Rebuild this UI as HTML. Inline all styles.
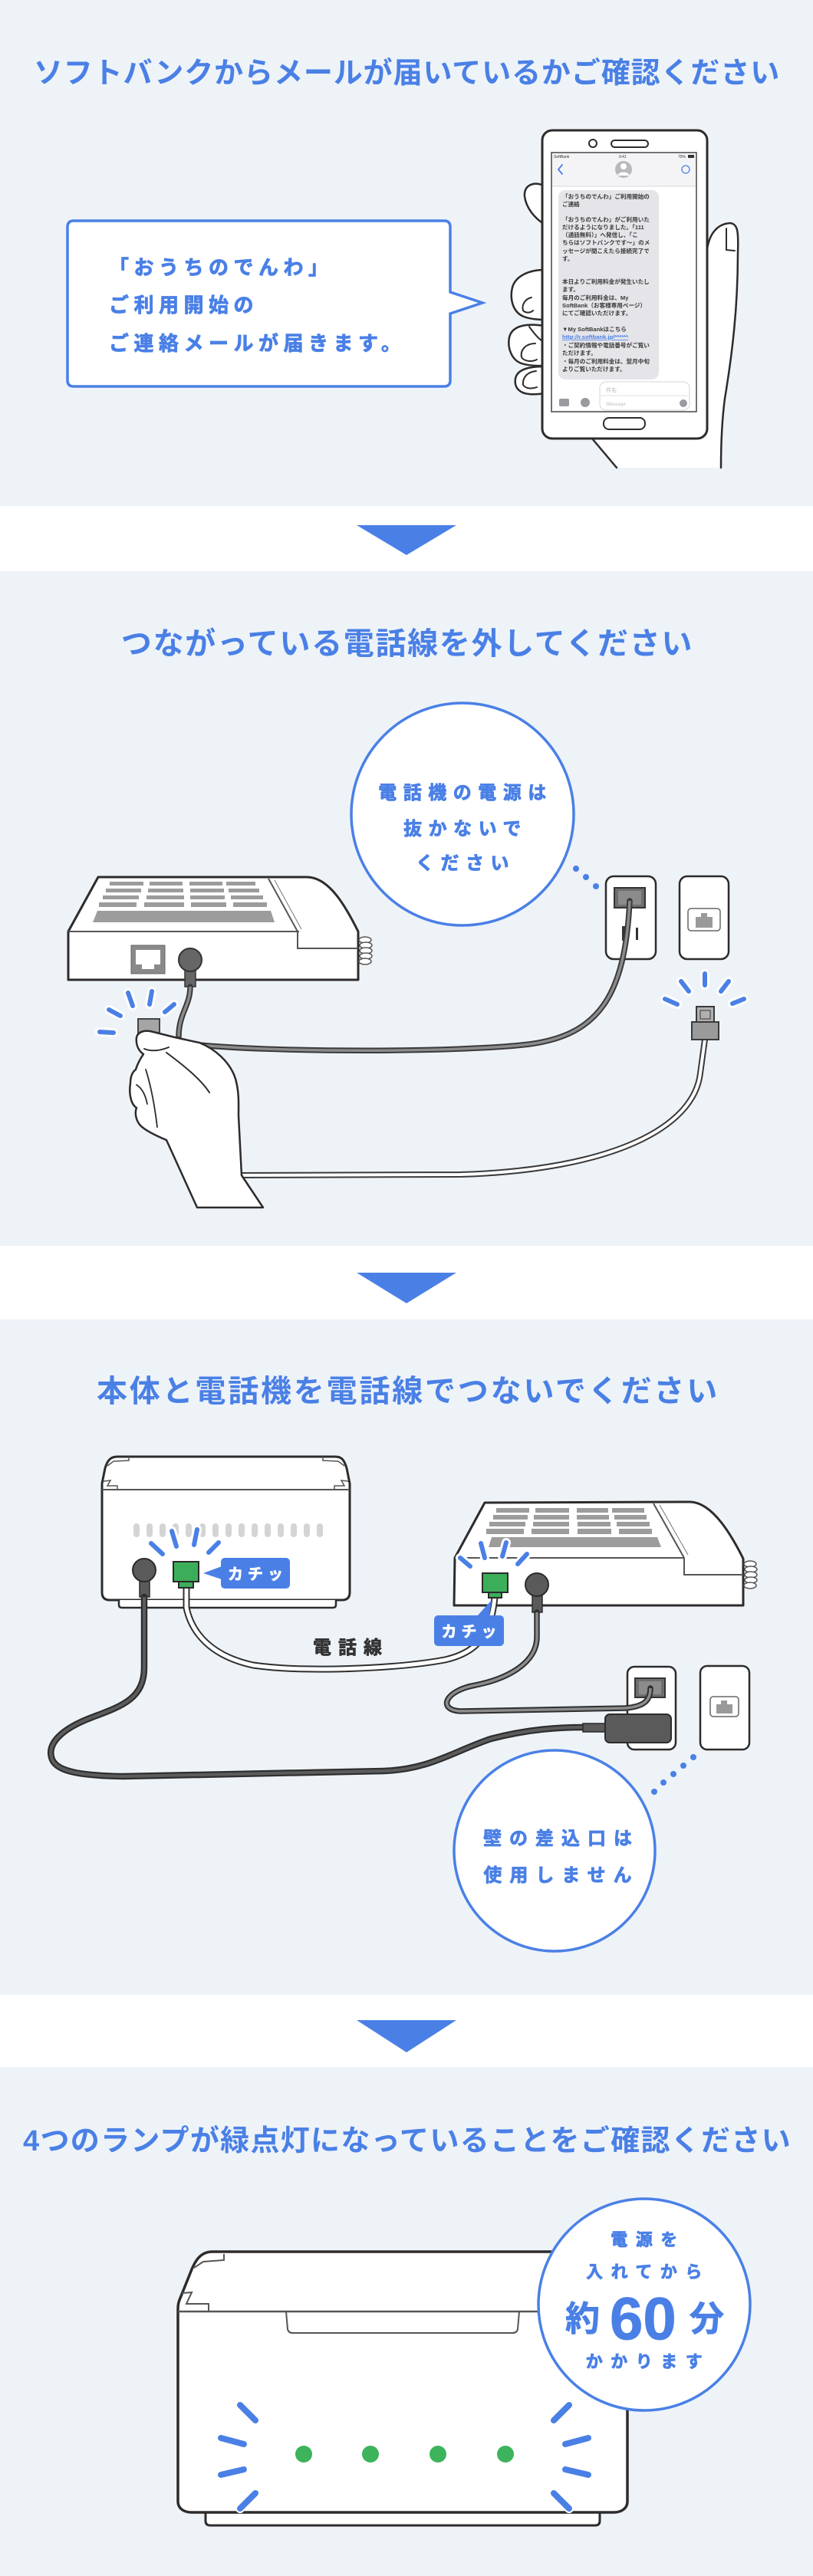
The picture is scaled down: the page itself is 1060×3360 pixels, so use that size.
<!DOCTYPE html>
<html><head><meta charset="utf-8">
<style>
html,body{margin:0;padding:0;background:#fff;}
svg{display:block;}
text{font-family:"Liberation Sans","Noto Sans CJK JP",sans-serif;font-weight:700;}
.t{fill:#4a80e6;}
.b{stroke:#4a80e6;stroke-width:0.8px;stroke-linejoin:round;}
.w{stroke:#fff;stroke-width:0.7px;stroke-linejoin:round;}
.k{stroke:#333;stroke-width:0.7px;stroke-linejoin:round;}
.ln{fill:none;stroke:#2e2b2b;stroke-linecap:round;stroke-linejoin:round;}
.dash{stroke:#4a80e6;stroke-width:6;stroke-linecap:round;fill:none;}
.halo{stroke:#fff;stroke-width:12;stroke-linecap:round;fill:none;}
.small{font-family:"Liberation Sans","Noto Sans CJK JP",sans-serif;font-weight:400;}
</style></head><body>
<svg width="1060" height="3360" viewBox="0 0 1060 3360" xmlns="http://www.w3.org/2000/svg">
<rect x="0" y="0" width="1060" height="3360" fill="#fff"/>
<rect x="0" y="0" width="1060" height="660" fill="#eef3f8"/>
<rect x="0" y="745" width="1060" height="880" fill="#eef3f8"/>
<rect x="0" y="1721" width="1060" height="881" fill="#eef3f8"/>
<rect x="0" y="2696" width="1060" height="664" fill="#eef3f8"/>

<!-- arrows -->
<polygon points="465,685 595,685 530,724" fill="#4a80e6"/>
<polygon points="465,1660 595,1660 530,1700" fill="#4a80e6"/>
<polygon points="465,2635 595,2635 530,2677" fill="#4a80e6"/>

<!-- titles -->
<text x="530.5" y="108" font-size="38" text-anchor="middle" class="t" style="letter-spacing:0.9px">ソフトバンクからメールが届いているかご確認ください</text>
<text x="531" y="853" font-size="40" text-anchor="middle" class="t" style="letter-spacing:1.7px">つながっている電話線を外してください</text>
<text x="532" y="1828" font-size="40" text-anchor="middle" class="t" style="letter-spacing:2.8px">本体と電話機を電話線でつないでください</text>
<text x="531" y="2805" font-size="38" text-anchor="middle" class="t" style="letter-spacing:1.3px">4つのランプが緑点灯になっていることをご確認ください</text>

<!-- ===== SECTION 1 ===== -->
<path d="M96,288 H579 Q587,288 587,296 V381 L629,395 L587,409 V496 Q587,504 579,504 H96 Q88,504 88,496 V296 Q88,288 96,288 Z" fill="#fff" stroke="#4a80e6" stroke-width="3.5" stroke-linejoin="miter"/>
<text x="142" y="358" font-size="26" class="t b" style="letter-spacing:6.5px">「おうちのでんわ」</text>
<text x="142" y="407" font-size="26" class="t b" style="letter-spacing:6.5px">ご利用開始の</text>
<text x="142" y="457" font-size="26" class="t b" style="letter-spacing:6.5px">ご連絡メールが届きます。</text>

<!-- hand behind phone -->
<path d="M922,330 C925,305 935,292 952,291 C962,292 963,302 962,330 C962,400 955,460 945,520 C941,550 940,580 940,610 L804,610 L772,572 L922,572 Z" fill="#fff"/>
<path class="ln" stroke-width="2.5" d="M922,325 C925,305 935,292 952,291 C962,292 963,302 962,330 C962,400 955,460 945,520 C941,550 940,580 940,610"/>
<path class="ln" stroke-width="2" d="M947,298 L947,326 L958,327"/>
<path class="ln" stroke-width="2.5" d="M772,572 L804,610"/>
<path d="M709,242 C695,236 683,242 684,256 C686,272 698,285 709,292 Z" fill="#fff" stroke="#2e2b2b" stroke-width="2.5" stroke-linejoin="round"/>
<path d="M709,352 C690,352 672,360 668,375 C664,392 670,408 683,413 C693,417 709,417 709,417 Z" fill="#fff" stroke="#2e2b2b" stroke-width="2.5" stroke-linejoin="round"/>
<path class="ln" stroke-width="2" d="M693,388 C684,390 680,398 682,405 C686,409 692,408 695,405"/>
<path d="M709,425 C690,422 668,423 664,440 C661,455 668,470 680,474 C692,478 709,477 709,477 Z" fill="#fff" stroke="#2e2b2b" stroke-width="2.5" stroke-linejoin="round"/>
<path class="ln" stroke-width="2" d="M698,448 C686,448 678,456 680,466 C684,472 694,472 700,469"/>
<path d="M709,478 C690,478 674,482 672,494 C670,506 678,513 690,514 C700,515 709,513 709,513 Z" fill="#fff" stroke="#2e2b2b" stroke-width="2.5" stroke-linejoin="round"/>
<path class="ln" stroke-width="2" d="M699,484 C688,485 681,492 682,502 C686,508 695,507 700,505"/>
<path class="ln" stroke-width="2" d="M690,426 C697,436 703,443 709,446"/>

<!-- phone -->
<rect x="707" y="170" width="215" height="402" rx="13" fill="#fff" stroke="#2e2b2b" stroke-width="3"/>
<circle cx="773" cy="187" r="5" fill="#fff" stroke="#2e2b2b" stroke-width="2"/>
<rect x="797" y="183" width="48" height="9" rx="4.5" fill="#fff" stroke="#2e2b2b" stroke-width="2"/>
<rect x="787" y="545" width="54" height="15" rx="7" fill="#fff" stroke="#2e2b2b" stroke-width="2"/>
<rect x="719" y="199" width="189" height="338" fill="#fff" stroke="#444" stroke-width="1.5"/>
<rect x="720" y="200" width="187" height="43" fill="#f4f4f6"/>
<line x1="720" y1="243" x2="907" y2="243" stroke="#d8d8dc" stroke-width="1"/>
<text x="722" y="206" font-size="5" fill="#333" class="small">SoftBank</text>
<text x="807" y="206" font-size="5" fill="#333" class="small">9:41</text>
<text x="884" y="206" font-size="5" fill="#333" class="small">79%</text>
<rect x="897" y="202" width="8" height="4" fill="#333"/>
<path d="M733,215 L728,221 L733,227" fill="none" stroke="#4a80e6" stroke-width="1.8" stroke-linecap="round"/>
<circle cx="813" cy="221" r="11" fill="#b8b8be"/>
<circle cx="813" cy="217" r="4" fill="#fff"/>
<path d="M805,229 C807,223 819,223 821,229" fill="#fff"/>
<circle cx="894" cy="221" r="5" fill="none" stroke="#4a80e6" stroke-width="1.3"/>
<rect x="728" y="248" width="131" height="247" rx="9" fill="#e4e4e9"/>
<g font-size="7.6" fill="#3a3a3a" class="small">
<text x="733" y="259">「おうちのでんわ」ご利用開始の</text>
<text x="733" y="269">ご連絡</text>
<text x="733" y="289">「おうちのでんわ」がご利用いた</text>
<text x="733" y="299">だけるようになりました。「111</text>
<text x="733" y="309">（通話無料）」へ発信し、「こ</text>
<text x="733" y="319">ちらはソフトバンクです～」のメ</text>
<text x="733" y="330">ッセージが聞こえたら接続完了で</text>
<text x="733" y="340">す。</text>
<text x="733" y="370">本日よりご利用料金が発生いたし</text>
<text x="733" y="380">ます。</text>
<text x="733" y="391">毎月のご利用料金は、My</text>
<text x="733" y="401">SoftBank（お客様専用ページ）</text>
<text x="733" y="411">にてご確認いただけます。</text>
<text x="733" y="432">▼My SoftBankはこちら</text>
<text x="733" y="442" fill="#4a80e6" text-decoration="underline">http://r.softbank.jp/******</text>
<text x="733" y="453">・ご契約情報や電話番号がご覧い</text>
<text x="733" y="463">ただけます。</text>
<text x="733" y="474">・毎月のご利用料金は、翌月中旬</text>
<text x="733" y="484">よりご覧いただけます。</text>
</g>
<rect x="782" y="498" width="117" height="37" rx="8" fill="#fff" stroke="#d6d6da" stroke-width="1"/>
<line x1="783" y1="516" x2="898" y2="516" stroke="#e2e2e6" stroke-width="1"/>
<text x="790" y="511" font-size="7" fill="#b8b8bc" class="small">件名</text>
<text x="790" y="529" font-size="6" fill="#c0c0c4" class="small">iMessage</text>
<circle cx="891" cy="526" r="5" fill="#9a9aa0"/>
<rect x="729" y="520" width="13" height="10" rx="2" fill="#9a9aa0"/>
<circle cx="763" cy="525" r="6" fill="#9a9aa0"/>

<!-- ===== SECTION 2 ===== -->
<path d="M89,1215 L128,1144 L400,1144 C430,1144 452,1185 467,1215 L467,1278 L89,1278 Z" fill="#fff" stroke="#2e2b2b" stroke-width="3" stroke-linejoin="round"/>
<g fill="#9c9c9c">
<rect x="143" y="1150" width="44" height="5"/><rect x="195" y="1150" width="43" height="5"/><rect x="247" y="1150" width="43" height="5"/><rect x="295" y="1150" width="38" height="5"/>
<rect x="138" y="1159" width="46" height="5"/><rect x="193" y="1159" width="46" height="5"/><rect x="248" y="1159" width="44" height="5"/><rect x="298" y="1159" width="40" height="5"/>
<rect x="134" y="1168" width="47" height="5"/><rect x="191" y="1168" width="49" height="5"/><rect x="248" y="1168" width="45" height="5"/><rect x="301" y="1168" width="42" height="5"/>
<rect x="129" y="1177" width="49" height="6"/><rect x="188" y="1177" width="52" height="6"/><rect x="249" y="1177" width="46" height="6"/><rect x="304" y="1177" width="44" height="6"/>
<polygon points="127,1188 353,1188 358,1203 121,1203"/>
</g>
<line x1="89" y1="1215" x2="390" y2="1215" stroke="#555" stroke-width="2"/>
<path d="M388,1215 L388,1237 L467,1237" fill="none" stroke="#555" stroke-width="2"/>
<path d="M350,1146 L388,1215" stroke="#555" stroke-width="2" fill="none"/>
<path d="M358,1148 L393,1212" stroke="#777" stroke-width="1" fill="none"/>
<g fill="#fff" stroke="#555" stroke-width="1.5">
<ellipse cx="476" cy="1226" rx="8" ry="4"/><ellipse cx="477" cy="1233" rx="8" ry="4"/><ellipse cx="477" cy="1240" rx="8" ry="4"/><ellipse cx="477" cy="1247" rx="8" ry="4"/><ellipse cx="476" cy="1254" rx="8" ry="4"/>
</g>
<rect x="171" y="1233" width="44" height="37" fill="#8a8a8a" stroke="#666" stroke-width="1"/>
<rect x="177" y="1239" width="32" height="19" fill="#fff"/>
<rect x="185" y="1257" width="16" height="7" fill="#fff"/>
<rect x="241" y="1258" width="14" height="29" fill="#666" stroke="#333" stroke-width="1.5"/>
<circle cx="248" cy="1252" r="15" fill="#666" stroke="#333" stroke-width="2"/>

<!-- outlets -->
<rect x="790" y="1143" width="65" height="108" rx="10" fill="#fff" stroke="#2e2b2b" stroke-width="2.5"/>
<rect x="801" y="1158" width="40" height="26" fill="#6e6e6e" stroke="#333" stroke-width="2"/>
<rect x="806" y="1162" width="30" height="18" fill="#8c8c8c"/>
<rect x="811" y="1208" width="4" height="19" fill="#333"/>
<rect x="829" y="1210" width="3" height="16" fill="#333"/>
<rect x="886" y="1143" width="64" height="108" rx="10" fill="#fff" stroke="#2e2b2b" stroke-width="2.5"/>
<rect x="897" y="1185" width="42" height="29" rx="4" fill="#fff" stroke="#666" stroke-width="1.5"/>
<rect x="907" y="1196" width="22" height="14" fill="#9a9a9a"/>
<rect x="914" y="1191" width="8" height="6" fill="#9a9a9a"/>

<!-- cables -->
<path d="M248,1287 C248,1312 233,1322 233,1352" fill="none" stroke="#3a3a3a" stroke-width="7.5" stroke-linecap="round"/>
<path d="M248,1287 C248,1312 233,1322 233,1352" fill="none" stroke="#8c8c8c" stroke-width="3.5"/>
<path d="M250,1362 C350,1373 600,1373 690,1362 C780,1350 815,1300 821,1175" fill="none" stroke="#3a3a3a" stroke-width="7.5" stroke-linecap="round"/>
<path d="M250,1362 C350,1373 600,1373 690,1362 C780,1350 815,1300 821,1175" fill="none" stroke="#8c8c8c" stroke-width="3.5"/>
<path d="M300,1533 L600,1532 C800,1526 905,1470 913,1400 L919,1356" fill="none" stroke="#3a3a3a" stroke-width="8"/>
<path d="M300,1533 L600,1532 C800,1526 905,1470 913,1400 L919,1356" fill="none" stroke="#fff" stroke-width="4"/>

<!-- RJ plug right -->
<rect x="908" y="1313" width="23" height="21" fill="#b0b0b0" stroke="#3a3a3a" stroke-width="2"/>
<rect x="913" y="1318" width="13" height="11" fill="none" stroke="#555" stroke-width="1.3"/>
<rect x="902" y="1333" width="35" height="23" fill="#9a9a9a" stroke="#3a3a3a" stroke-width="2"/>

<!-- plug in hand + hand -->
<rect x="180" y="1329" width="28" height="38" fill="#a5a5a5" stroke="#444" stroke-width="2"/>
<path d="M178,1353 C180,1345 190,1343 200,1346 C215,1350 240,1356 260,1360 C280,1368 300,1385 307,1407 C312,1425 311,1440 311,1455 L315,1533 L343,1575 L257,1575 L217,1487 C205,1482 190,1475 183,1468 C176,1460 176,1450 178,1445 C170,1440 168,1425 170,1413 C170,1403 173,1398 177,1395 C180,1385 185,1378 187,1375 C180,1370 177,1362 178,1353 Z" fill="#fff" stroke="#2e2b2b" stroke-width="2.5" stroke-linejoin="round"/>
<path class="ln" stroke-width="2" d="M188,1368 C198,1372 210,1370 220,1366"/>
<path class="ln" stroke-width="2" d="M217,1373 C240,1390 262,1408 273,1425"/>
<path class="ln" stroke-width="1.8" d="M190,1395 C198,1420 202,1445 205,1470"/>
<path class="ln" stroke-width="1.8" d="M178,1415 C186,1420 190,1430 192,1440"/>

<!-- blue dashes sec2 -->
<g>
<line class="halo" x1="130" y1="1346" x2="148" y2="1347"/><line class="dash" x1="130" y1="1346" x2="148" y2="1347"/>
<line class="halo" x1="142" y1="1317" x2="157" y2="1325"/><line class="dash" x1="142" y1="1317" x2="157" y2="1325"/>
<line class="halo" x1="167" y1="1295" x2="173" y2="1312"/><line class="dash" x1="167" y1="1295" x2="173" y2="1312"/>
<line class="halo" x1="198" y1="1293" x2="195" y2="1310"/><line class="dash" x1="198" y1="1293" x2="195" y2="1310"/>
<line class="halo" x1="227" y1="1310" x2="215" y2="1320"/><line class="dash" x1="227" y1="1310" x2="215" y2="1320"/>
<line class="halo" x1="867" y1="1303" x2="883" y2="1310"/><line class="dash" x1="867" y1="1303" x2="883" y2="1310"/>
<line class="halo" x1="888" y1="1280" x2="898" y2="1293"/><line class="dash" x1="888" y1="1280" x2="898" y2="1293"/>
<line class="halo" x1="919" y1="1270" x2="919" y2="1285"/><line class="dash" x1="919" y1="1270" x2="919" y2="1285"/>
<line class="halo" x1="950" y1="1280" x2="940" y2="1293"/><line class="dash" x1="950" y1="1280" x2="940" y2="1293"/>
<line class="halo" x1="970" y1="1303" x2="955" y2="1309"/><line class="dash" x1="970" y1="1303" x2="955" y2="1309"/>
</g>

<!-- circle sec2 -->
<circle cx="603" cy="1062" r="145" fill="#fff" stroke="#4a80e6" stroke-width="3.5"/>
<text x="607" y="1042" font-size="24" text-anchor="middle" class="t b" style="letter-spacing:8.5px">電話機の電源は</text>
<text x="607" y="1089" font-size="24" text-anchor="middle" class="t b" style="letter-spacing:8.5px">抜かないで</text>
<text x="607" y="1134" font-size="24" text-anchor="middle" class="t b" style="letter-spacing:8.5px">ください</text>
<circle cx="751" cy="1133" r="4" fill="#4a80e6"/>
<circle cx="764" cy="1144" r="4" fill="#4a80e6"/>
<circle cx="777" cy="1156" r="4" fill="#4a80e6"/>

<!-- ===== SECTION 3 ===== -->
<path d="M153,1900 L437,1900 C446,1900 449,1905 452,1915 L456,1935 L456,2077 Q456,2087 446,2087 L143,2087 Q133,2087 133,2077 L133,1935 L137,1915 C140,1905 144,1900 153,1900 Z" fill="#fff" stroke="#2e2b2b" stroke-width="3" stroke-linejoin="round"/>
<path d="M155,2087 L155,2093 Q155,2097 159,2097 L434,2097 Q438,2097 438,2093 L438,2087" fill="#fff" stroke="#2e2b2b" stroke-width="2.5"/>
<line x1="133" y1="1943" x2="456" y2="1943" stroke="#555" stroke-width="2"/>
<polyline points="140,1912 148,1906 168,1905 168,1900" fill="none" stroke="#555" stroke-width="1.5"/>
<polyline points="135,1932 144,1931 140,1938 153,1938 153,1943" fill="none" stroke="#555" stroke-width="1.5"/>
<polyline points="449,1912 441,1906 421,1905 421,1900" fill="none" stroke="#555" stroke-width="1.5"/>
<polyline points="454,1932 445,1931 449,1938 436,1938 436,1943" fill="none" stroke="#555" stroke-width="1.5"/>
<g fill="#d4d4d4">
<rect x="174" y="1987" width="8" height="18" rx="4"/><rect x="191" y="1987" width="8" height="18" rx="4"/><rect x="208" y="1987" width="8" height="18" rx="4"/><rect x="225" y="1987" width="8" height="18" rx="4"/><rect x="242" y="1987" width="8" height="18" rx="4"/><rect x="260" y="1987" width="8" height="18" rx="4"/><rect x="277" y="1987" width="8" height="18" rx="4"/><rect x="294" y="1987" width="8" height="18" rx="4"/><rect x="311" y="1987" width="8" height="18" rx="4"/><rect x="328" y="1987" width="8" height="18" rx="4"/><rect x="345" y="1987" width="8" height="18" rx="4"/><rect x="362" y="1987" width="8" height="18" rx="4"/><rect x="379" y="1987" width="8" height="18" rx="4"/><rect x="396" y="1987" width="8" height="18" rx="4"/><rect x="413" y="1987" width="8" height="18" rx="4"/>
</g>
<rect x="182" y="2055" width="13" height="28" fill="#5a5a5a" stroke="#2e2b2b" stroke-width="1.5"/>
<circle cx="188" cy="2048" r="15" fill="#5a5a5a" stroke="#2e2b2b" stroke-width="2"/>

<!-- phone sec3 -->
<path d="M593,2032 L632,1960 L900,1959 C930,1960 955,2005 969,2033 L969,2094 L592,2094 Z" fill="#fff" stroke="#2e2b2b" stroke-width="3" stroke-linejoin="round"/>
<g fill="#9c9c9c">
<rect x="647" y="1967" width="43" height="6"/><rect x="698" y="1967" width="44" height="6"/><rect x="752" y="1967" width="41" height="6"/><rect x="798" y="1967" width="42" height="6"/>
<rect x="643" y="1976" width="45" height="6"/><rect x="696" y="1976" width="46" height="6"/><rect x="752" y="1976" width="42" height="6"/><rect x="801" y="1976" width="42" height="6"/>
<rect x="638" y="1985" width="47" height="6"/><rect x="695" y="1985" width="47" height="6"/><rect x="753" y="1985" width="43" height="6"/><rect x="804" y="1985" width="43" height="6"/>
<rect x="634" y="1994" width="49" height="7"/><rect x="693" y="1994" width="49" height="7"/><rect x="753" y="1994" width="44" height="7"/><rect x="807" y="1994" width="43" height="7"/>
<polygon points="641,2005 857,2005 862,2018 637,2018"/>
</g>
<line x1="593" y1="2032" x2="892" y2="2032" stroke="#555" stroke-width="2"/>
<path d="M892,2032 L892,2054 L969,2054" fill="none" stroke="#555" stroke-width="2"/>
<path d="M852,1961 L892,2032" stroke="#555" stroke-width="2" fill="none"/>
<path d="M860,1963 L897,2028" stroke="#777" stroke-width="1" fill="none"/>
<g fill="#fff" stroke="#555" stroke-width="1.5">
<ellipse cx="978" cy="2040" rx="8" ry="4"/><ellipse cx="979" cy="2047" rx="8" ry="4"/><ellipse cx="979" cy="2054" rx="8" ry="4"/><ellipse cx="979" cy="2061" rx="8" ry="4"/><ellipse cx="978" cy="2068" rx="8" ry="4"/>
</g>
<rect x="694" y="2074" width="13" height="29" fill="#5a5a5a" stroke="#2e2b2b" stroke-width="1.5"/>
<circle cx="700" cy="2067" r="15" fill="#5a5a5a" stroke="#2e2b2b" stroke-width="2"/>

<!-- outlets sec3 -->
<rect x="818" y="2174" width="63" height="108" rx="9" fill="#fff" stroke="#2e2b2b" stroke-width="2.5"/>
<rect x="828" y="2189" width="39" height="25" fill="#6e6e6e" stroke="#333" stroke-width="2"/>
<rect x="833" y="2193" width="29" height="17" fill="#8c8c8c"/>
<rect x="913" y="2173" width="64" height="109" rx="9" fill="#fff" stroke="#2e2b2b" stroke-width="2.5"/>
<rect x="926" y="2213" width="37" height="26" rx="4" fill="#fff" stroke="#666" stroke-width="1.5"/>
<rect x="934" y="2223" width="21" height="12" fill="#9a9a9a"/>
<rect x="940" y="2218" width="8" height="6" fill="#9a9a9a"/>

<!-- cables sec3 -->
<path d="M188,2083 L188,2175 C188,2215 160,2225 120,2240 C80,2255 60,2275 68,2295 C75,2312 110,2316 160,2317 L500,2310 C560,2308 590,2285 640,2268 C690,2255 730,2253 762,2253" fill="none" stroke="#2f2f2f" stroke-width="8.5" stroke-linecap="round"/>
<path d="M188,2083 L188,2175 C188,2215 160,2225 120,2240 C80,2255 60,2275 68,2295 C75,2312 110,2316 160,2317 L500,2310 C560,2308 590,2285 640,2268 C690,2255 730,2253 762,2253" fill="none" stroke="#5c5c5c" stroke-width="4"/>
<path d="M700,2103 L700,2135 C700,2170 660,2190 620,2198 C580,2205 570,2230 600,2232 L815,2228 C840,2226 848,2218 848,2202" fill="none" stroke="#2f2f2f" stroke-width="7.5" stroke-linecap="round"/>
<path d="M700,2103 L700,2135 C700,2170 660,2190 620,2198 C580,2205 570,2230 600,2232 L815,2228 C840,2226 848,2218 848,2202" fill="none" stroke="#8c8c8c" stroke-width="3.5"/>
<path d="M243,2071 L243,2097 C250,2130 275,2160 330,2172 C400,2182 520,2176 580,2165 C625,2155 640,2130 645,2084" fill="none" stroke="#2f2f2f" stroke-width="9"/>
<path d="M243,2071 L243,2097 C250,2130 275,2160 330,2172 C400,2182 520,2176 580,2165 C625,2155 640,2130 645,2084" fill="none" stroke="#fff" stroke-width="5"/>

<!-- adapter -->
<rect x="760" y="2248" width="30" height="11" fill="#5a5a5a" stroke="#2e2b2b" stroke-width="1.5"/>
<rect x="789" y="2236" width="86" height="37" rx="6" fill="#5a5a5a" stroke="#2e2b2b" stroke-width="2"/>

<!-- green connectors -->
<rect x="233" y="2062" width="19" height="9" fill="#3cae5a" stroke="#2a2a2a" stroke-width="2"/>
<rect x="226" y="2037" width="33" height="26" fill="#3cae5a" stroke="#2a2a2a" stroke-width="2"/>
<rect x="637" y="2076" width="17" height="8" fill="#3cae5a" stroke="#2a2a2a" stroke-width="2"/>
<rect x="629" y="2052" width="33" height="25" fill="#3cae5a" stroke="#2a2a2a" stroke-width="2"/>

<!-- blue dashes sec3 -->
<line class="halo" x1="197" y1="2013" x2="212" y2="2027"/><line class="dash" x1="197" y1="2013" x2="212" y2="2027"/>
<line class="halo" x1="224" y1="1997" x2="230" y2="2017"/><line class="dash" x1="224" y1="1997" x2="230" y2="2017"/>
<line class="halo" x1="257" y1="1995" x2="253" y2="2015"/><line class="dash" x1="257" y1="1995" x2="253" y2="2015"/>
<line class="halo" x1="285" y1="2012" x2="272" y2="2025"/><line class="dash" x1="285" y1="2012" x2="272" y2="2025"/>
<line class="halo" x1="600" y1="2032" x2="613" y2="2043"/><line class="dash" x1="600" y1="2032" x2="613" y2="2043"/>
<line class="halo" x1="627" y1="2013" x2="632" y2="2032"/><line class="dash" x1="627" y1="2013" x2="632" y2="2032"/>
<line class="halo" x1="660" y1="2012" x2="655" y2="2030"/><line class="dash" x1="660" y1="2012" x2="655" y2="2030"/>
<line class="halo" x1="687" y1="2027" x2="675" y2="2040"/><line class="dash" x1="687" y1="2027" x2="675" y2="2040"/>

<!-- labels -->
<rect x="288" y="2032" width="90" height="40" rx="5" fill="#4a80e6"/>
<polygon points="289,2043 265,2052 289,2060" fill="#4a80e6"/>
<text x="336" y="2060" font-size="20" text-anchor="middle" fill="#fff" class="w" style="letter-spacing:6px">カチッ</text>
<rect x="566" y="2107" width="91" height="40" rx="5" fill="#4a80e6"/>
<polygon points="622,2108 641,2087 638,2108" fill="#4a80e6"/>
<text x="614.5" y="2135" font-size="20" text-anchor="middle" fill="#fff" class="w" style="letter-spacing:6px">カチッ</text>
<text x="457.5" y="2157" font-size="24" text-anchor="middle" fill="#333" class="k" style="letter-spacing:9px">電話線</text>

<!-- circle sec3 -->
<circle cx="723" cy="2414" r="131" fill="#fff" stroke="#4a80e6" stroke-width="3.5"/>
<text x="732" y="2406" font-size="24" text-anchor="middle" class="t b" style="letter-spacing:10px">壁の差込口は</text>
<text x="732" y="2454" font-size="24" text-anchor="middle" class="t b" style="letter-spacing:10px">使用しません</text>
<circle cx="853" cy="2337" r="4" fill="#4a80e6"/>
<circle cx="865" cy="2325" r="4" fill="#4a80e6"/>
<circle cx="878" cy="2314" r="4" fill="#4a80e6"/>
<circle cx="891" cy="2303" r="4" fill="#4a80e6"/>
<circle cx="904" cy="2292" r="4" fill="#4a80e6"/>

<!-- ===== SECTION 4 ===== -->
<path d="M268,3277 L268,3288 Q268,3294 274,3294 L776,3294 Q782,3294 782,3288 L782,3277" fill="#fff" stroke="#2e2b2b" stroke-width="3"/>
<path d="M277,2937 L773,2937 C788,2937 795,2948 800,2960 L814,2995 C817,3002 818,3005 818,3012 L818,3263 C818,3272 810,3277 800,3277 L250,3277 C240,3277 232,3272 232,3263 L232,3012 C232,3005 233,3002 236,2995 L250,2960 C255,2948 262,2937 277,2937 Z" fill="#fff" stroke="#2e2b2b" stroke-width="3.5" stroke-linejoin="round"/>
<line x1="232" y1="3015" x2="818" y2="3015" stroke="#555" stroke-width="2.5"/>
<path d="M373,3015 L375,3038 Q376,3043 382,3043 L668,3043 Q674,3043 675,3038 L677,3015" fill="none" stroke="#555" stroke-width="2"/>
<polyline points="253,2958 265,2950 292,2948 292,2940" fill="none" stroke="#555" stroke-width="2"/>
<polyline points="237,2991 250,2990 243,3005 272,3005 272,3015" fill="none" stroke="#555" stroke-width="2"/>
<polyline points="797,2958 785,2950 758,2948 758,2940" fill="none" stroke="#555" stroke-width="2"/>
<polyline points="813,2991 800,2990 807,3005 778,3005 778,3015" fill="none" stroke="#555" stroke-width="2"/>
<g fill="#3db35b">
<circle cx="396" cy="3201" r="11"/><circle cx="483" cy="3201" r="11"/><circle cx="571" cy="3201" r="11"/><circle cx="659" cy="3201" r="11"/>
</g>
<g>
<line class="dash" style="stroke-width:8" x1="313" y1="3137" x2="333" y2="3157"/>
<line class="dash" style="stroke-width:8" x1="288" y1="3180" x2="318" y2="3188"/>
<line class="dash" style="stroke-width:8" x1="288" y1="3228" x2="318" y2="3221"/>
<line class="halo" style="stroke-width:12" x1="313" y1="3272" x2="333" y2="3252"/>
<line class="dash" style="stroke-width:8" x1="313" y1="3272" x2="333" y2="3252"/>
<line class="dash" style="stroke-width:8" x1="742" y1="3137" x2="722" y2="3157"/>
<line class="dash" style="stroke-width:8" x1="767" y1="3180" x2="737" y2="3188"/>
<line class="dash" style="stroke-width:8" x1="767" y1="3228" x2="737" y2="3221"/>
<line class="halo" style="stroke-width:12" x1="742" y1="3272" x2="722" y2="3252"/>
<line class="dash" style="stroke-width:8" x1="742" y1="3272" x2="722" y2="3252"/>
</g>

<!-- circle sec4 -->
<circle cx="840" cy="3006" r="138" fill="#fff" stroke="#4a80e6" stroke-width="3.5"/>
<text x="845" y="2929" font-size="22" text-anchor="middle" class="t b" style="letter-spacing:10.5px">電源を</text>
<text x="845" y="2971" font-size="22" text-anchor="middle" class="t b" style="letter-spacing:10.5px">入れてから</text>
<text x="737" y="3040" font-size="45" class="t b">約</text>
<text x="795" y="3051" font-size="78" class="t b" style="font-family:'Liberation Sans',sans-serif">60</text>
<text x="899" y="3040" font-size="45" class="t b">分</text>
<text x="845" y="3088" font-size="22" text-anchor="middle" class="t b" style="letter-spacing:10.5px">かかります</text>
</svg>
</body></html>
